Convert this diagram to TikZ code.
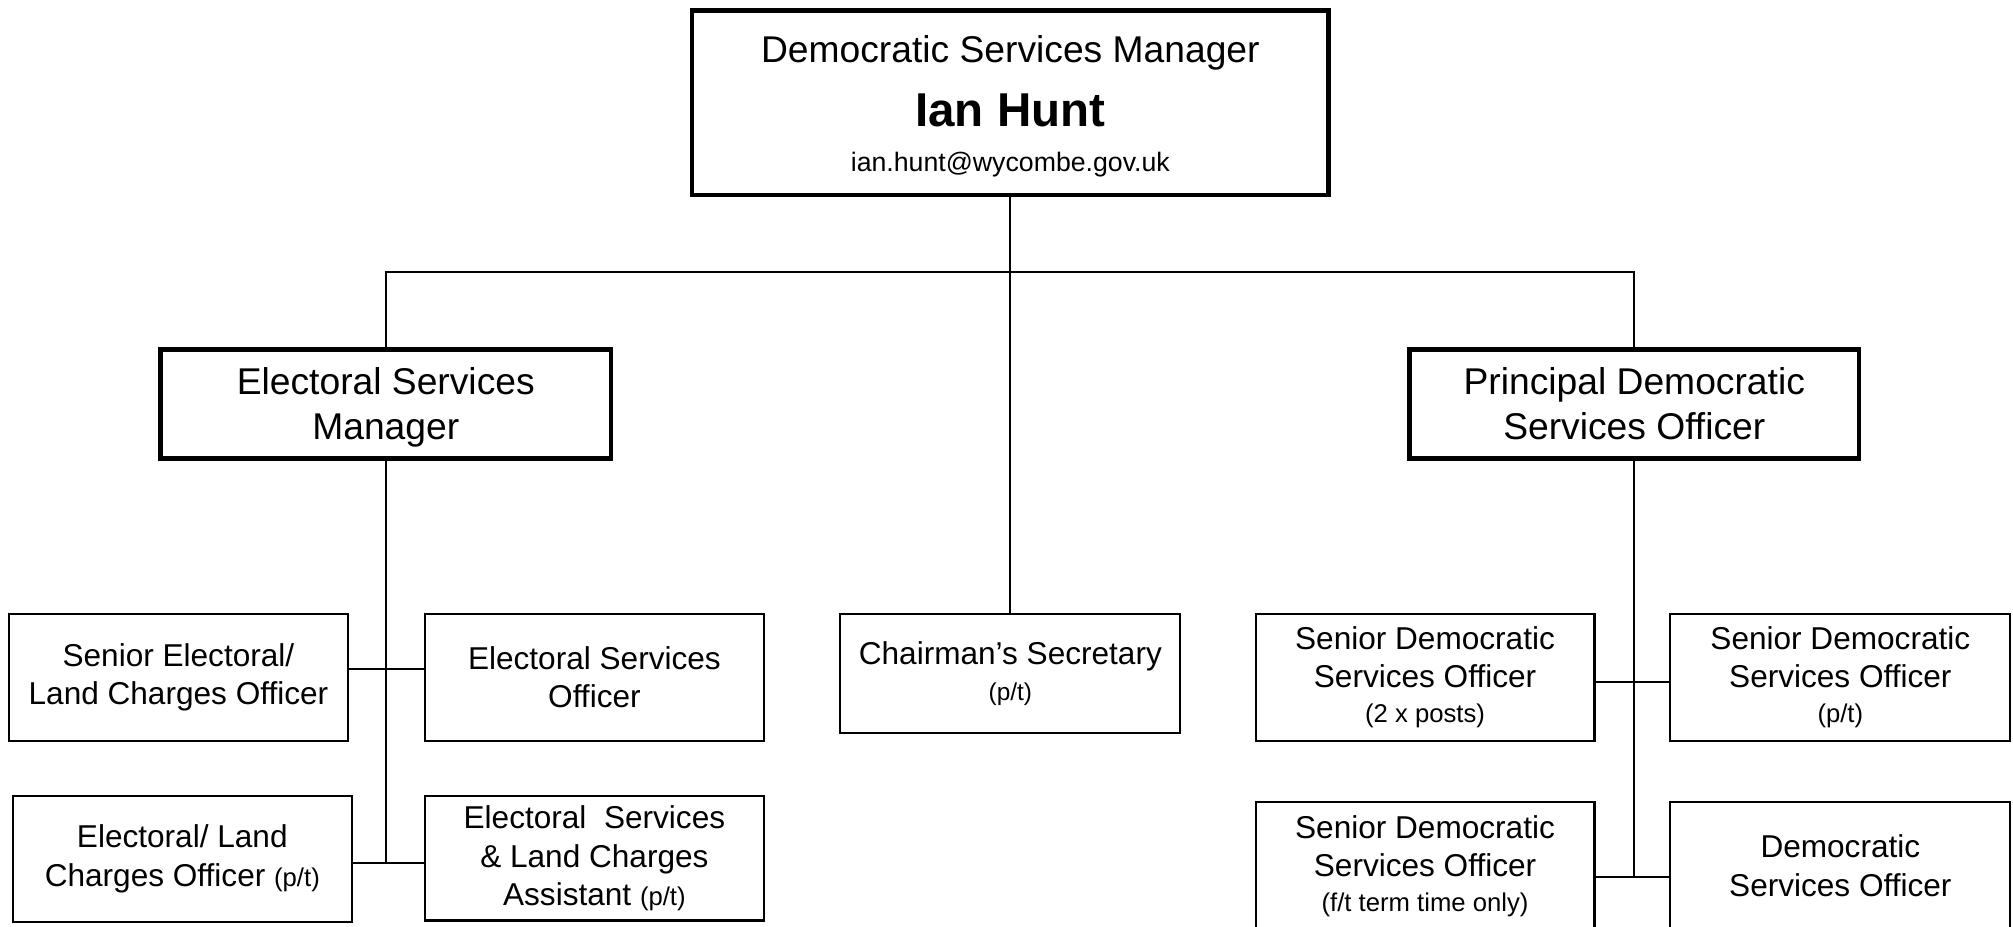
\documentclass[tikz,border=0pt]{standalone}
\usepackage{fontspec}
\setmainfont{Liberation Sans}
\newcommand\smtxt{\fontsize{10}{12}\selectfont}
\begin{document}
\begin{tikzpicture}[x=0.5pt,y=-0.5pt,
  thickbox/.style={draw, line width=1.8pt, inner sep=0pt, align=center, font=\fontsize{14.5}{17.5}\selectfont},
  thinbox/.style={draw, line width=0.8pt, inner sep=0pt, align=center, font=\fontsize{12.3}{15}\selectfont,
                  minimum width=132pt, minimum height=49.5pt},
  link/.style={line width=0.8pt},
  lbl/.style={anchor=base, inner sep=0pt}]
\useasboundingbox (0,0) rectangle (1568,722);
\clip (0,0) rectangle (1568,722);
\fill[white] (0,0) rectangle (1568,722);

% top
\node[thickbox, minimum width=248pt, minimum height=72pt] (top) at (787,80) {};
\node[lbl, font=\fontsize{14.5}{17}\selectfont] (topA) at (787,48.4) {Democratic Services Manager};
\node[lbl, font=\bfseries\fontsize{18.5}{22}\selectfont] (topB) at (787,98.3) {Ian Hunt};
\node[lbl, font=\fontsize{10.4}{12}\selectfont] (topC) at (787,133.5) {ian.hunt@wycombe.gov.uk};

% level 2
\node[thickbox, text depth=0pt, minimum width=175.5pt, minimum height=42.5pt] (esm) at (300.5,314.5) {Electoral Services\\Manager};
\node[thickbox, minimum width=175pt, minimum height=42.5pt] (pdso) at (1273,314.5) {Principal Democratic\\Services Officer};

% chairman
\node[thinbox, minimum width=132.5pt, minimum height=46.5pt] (chair) at (787,524.5) {Chairman’s Secretary\\[-1pt]{\fontsize{9.5}{11}\selectfont (p/t)}};

% left group
\node[thinbox] (se) at (139,527.5) {Senior Electoral/\\Land Charges Officer};
\node[thinbox] (eso) at (463,527.5) {Electoral Services\\Officer};
\node[thinbox, minimum height=49pt] (el) at (142,669) {Electoral/ Land\\Charges Officer {\smtxt(p/t)}};
\node[thinbox, minimum height=48.5pt] (esa) at (463,668.5) {Electoral\ \ Services\\\& Land Charges\\Assistant {\smtxt(p/t)}};

% right group
\node[thinbox] (sd1) at (1110,527.5) {Senior Democratic\\Services Officer\\[-1.5pt]{\smtxt(2 x posts)}};
\node[thinbox, minimum width=132.5pt] (sd2) at (1433.5,527.5) {Senior Democratic\\Services Officer\\[-1.5pt]{\smtxt(p/t)}};
\node[thinbox] (sd3) at (1110,674.5) {Senior Democratic\\Services Officer\\[-1.5pt]{\smtxt(f/t term time only)}};
\node[thinbox, minimum width=132.5pt] (dso) at (1433.5,674.5) {Democratic\\Services Officer};

% connectors
\coordinate (jl) at (300.5,212);
\coordinate (jr) at (1273,212);
\coordinate (yA) at (0,521);
\coordinate (yB) at (0,672);
\coordinate (yC) at (0,531);
\coordinate (yD) at (0,683);
\draw[link] (top.south) -- (chair.north);
\draw[link] (esm.north) -- (jl) -- (jr) -- (pdso.north);
\draw[link] (esm.south) -- (esm.south |- yB);
\draw[link] (se.east |- yA) -- (eso.west |- yA);
\draw[link] (el.east |- yB) -- (esa.west |- yB);
\draw[link] (pdso.south) -- (pdso.south |- yD);
\draw[link] (sd1.east |- yC) -- (sd2.west |- yC);
\draw[link] (sd3.east |- yD) -- (dso.west |- yD);
\end{tikzpicture}
\end{document}
